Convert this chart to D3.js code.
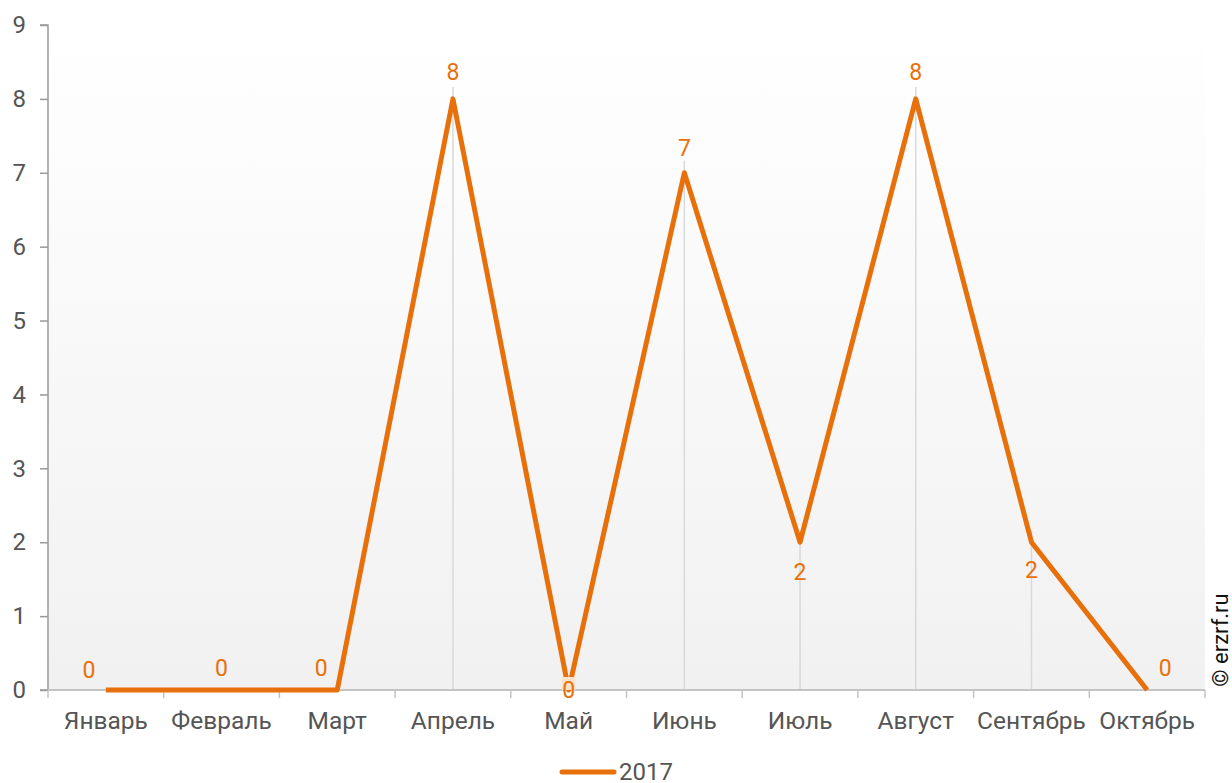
<!DOCTYPE html>
<html>
<head>
<meta charset="utf-8">
<script src="https://d3js.org/d3.v7.min.js"></script>
<style>
  body { margin: 0; background: #fff; }
  text { font-family: Roboto, sans-serif; }
</style>
</head>
<body>
<div id="chart"></div>
<script>
var months = ["Январь", "Февраль", "Март", "Апрель", "Май", "Июнь", "Июль", "Август", "Сентябрь", "Октябрь"];
var values2017 = [0, 0, 0, 8, 0, 7, 2, 8, 2, 0];
var yTicks = [0, 1, 2, 3, 4, 5, 6, 7, 8, 9];
var seriesName = "2017";

// label offsets (px) relative to each point, to mimic the reference placement
var labelDx = [-17, 0, -16, 0, 0, 0, 0, 0, 0, 18];
var labelDy = [-20, -22, -22, -27, 0, -25, 30, -27, 28, -22];

var width = 1232, height = 783;
var margin = {left: 48, right: 27, top: 25, bottom: 93};
var orange = "#e8700b";
var fs = 23;

var svg = d3.select("#chart").append("svg")
    .attr("width", width)
    .attr("height", height);

var x = d3.scaleBand()
    .domain(months)
    .range([margin.left, width - margin.right]);

var y = d3.scaleLinear()
    .domain([0, 9])
    .range([height - margin.bottom, margin.top]);

// plot background gradient
var grad = svg.append("defs").append("linearGradient")
    .attr("id", "bg")
    .attr("x1", 0).attr("y1", 0).attr("x2", 0).attr("y2", 1);
grad.append("stop").attr("offset", "0%").attr("stop-color", "#ffffff");
grad.append("stop").attr("offset", "100%").attr("stop-color", "#f1f1f1");

svg.append("rect")
    .attr("x", margin.left)
    .attr("y", y(9))
    .attr("width", x.range()[1] - margin.left)
    .attr("height", y(0) - y(9))
    .attr("fill", "url(#bg)");

var cx = function(d, i) { return x(months[i]) + x.bandwidth() / 2; };

// drop lines
var drop = svg.append("g");
values2017.forEach(function(d, i) {
  if (d <= 0) return;
  drop.append("line")
    .attr("x1", cx(d, i)).attr("x2", cx(d, i))
    .attr("y1", y(d) - 12).attr("y2", y(0))
    .attr("stroke", "#d9d9d9")
    .attr("stroke-width", 1.5);
});

// y axis
var yAxis = svg.append("g")
    .attr("transform", "translate(" + margin.left + ",0)")
    .call(d3.axisLeft(y).tickValues(yTicks).tickSize(8).tickPadding(14).tickFormat(d3.format("d")));
yAxis.select(".domain").attr("stroke", "#999").attr("stroke-width", 1.5).attr("d", "M-8," + y(9) + "H0V" + y(0) + "H-8");
yAxis.selectAll(".tick line").attr("stroke", "#999").attr("stroke-width", 1.5);
yAxis.selectAll(".tick text").attr("font-size", 24).attr("fill", "#555").attr("font-family", "Roboto, sans-serif");

// x axis
var xAxis = svg.append("g")
    .attr("transform", "translate(0," + y(0) + ")")
    .call(d3.axisBottom(x).tickSize(0).tickPadding(22));
xAxis.select(".domain").attr("stroke", "#c4c4c4").attr("stroke-width", 2)
    .attr("d", "M" + margin.left + ",0H" + x.range()[1]);
xAxis.selectAll(".tick text").attr("font-size", 24.5).attr("fill", "#555").attr("font-family", "Roboto, sans-serif");
var bounds = months.map(function(m) { return x(m); }).concat([x.range()[1]]);
xAxis.selectAll(".bound")
    .data(bounds)
    .enter().append("line")
    .attr("class", "bound")
    .attr("x1", function(d) { return d; }).attr("x2", function(d) { return d; })
    .attr("y1", 0).attr("y2", 8)
    .attr("stroke", "#c4c4c4").attr("stroke-width", 1.5);

// series line
var line = d3.line()
    .x(function(d, i) { return cx(d, i); })
    .y(function(d) { return y(d); });

svg.append("path")
    .datum(values2017)
    .attr("d", line)
    .attr("fill", "none")
    .attr("stroke", orange)
    .attr("stroke-width", 5)
    .attr("stroke-linejoin", "round");

// data labels
var labels = svg.append("g");
values2017.forEach(function(d, i) {
  var lx = cx(d, i) + labelDx[i], ly = y(d) + labelDy[i];
  if (i === 4) {
    labels.append("rect")
      .attr("x", lx - 7).attr("y", ly - 13)
      .attr("width", 14).attr("height", 13)
      .attr("fill", "#fde3cc");
  }
  labels.append("text")
    .attr("x", lx).attr("y", ly)
    .attr("text-anchor", "middle")
    .attr("dy", "0.35em")
    .attr("font-size", fs)
    .attr("fill", orange)
    .text(d);
});

// legend
var legend = svg.append("g").attr("transform", "translate(0,772)");
legend.append("line")
    .attr("x1", 562).attr("x2", 614)
    .attr("y1", 0).attr("y2", 0)
    .attr("stroke", orange).attr("stroke-width", 5).attr("stroke-linecap", "round");
legend.append("text")
    .attr("x", 619).attr("y", 0).attr("dy", "0.35em")
    .attr("font-size", 24).attr("fill", "#555")
    .text(seriesName);

// copyright
svg.append("text")
    .attr("transform", "translate(1228,640) rotate(-90)")
    .attr("text-anchor", "middle")
    .attr("font-size", 22)
    .attr("fill", "#111")
    .text("© erzrf.ru");
</script>
</body>
</html>
